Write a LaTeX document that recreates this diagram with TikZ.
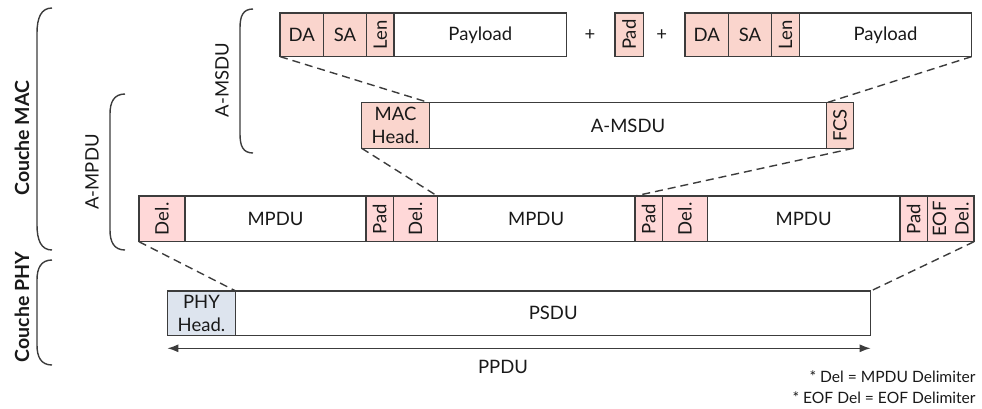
\documentclass[tikz,border=0pt]{standalone}
\usepackage{fontspec}
\setmainfont{Lato}
\usetikzlibrary{arrows.meta}
\definecolor{salm}{RGB}{250,213,205}
\definecolor{delc}{RGB}{255,216,216}
\definecolor{phyc}{RGB}{221,228,238}
\definecolor{edge}{RGB}{60,60,60}
\definecolor{txt}{RGB}{25,25,25}
\tikzset{
  cellbox/.style={draw=edge, line width=1.5pt, inner sep=0pt, outer sep=0pt, anchor=north west, align=center, text=txt,
     font=\fontsize{18.5}{22.5}\selectfont},
  dashlink/.style={draw=edge, line width=1.4pt, dash pattern=on 8pt off 5pt},
  bracket/.style={draw=edge, line width=1.4pt},
  lbl/.style={text=txt, font=\fontsize{18.5}{22.5}\selectfont},
}
% \cellnode{name}{x1}{x2}{y1}{y2}{fill}{rot}{text}
\newcommand{\cellnode}[8]{%
  \pgfmathsetmacro{\cw}{#3-#2}\pgfmathsetmacro{\ch}{#5-#4}%
  \node[cellbox, fill=#6, minimum width=\cw pt, minimum height=\ch pt] (#1) at (#2,#4) {};
  \node[lbl, rotate=#7, align=center] at (#1.center) {#8};
}
\begin{document}
\begin{tikzpicture}[x=1pt,y=-1pt]
\useasboundingbox (0,0) rectangle (982,408);
% Row 1
\cellnode{da1}{280}{323.3}{13}{56.6}{salm}{0}{DA}
\cellnode{sa1}{323.3}{366.7}{13}{56.6}{salm}{0}{SA}
\cellnode{len1}{366.7}{394}{13}{56.6}{salm}{90}{Len}
\cellnode{pay1}{394}{566.7}{13}{56.6}{white}{0}{Payload}
\node[lbl] (plus1) at (590,35) {+};
\cellnode{pad0}{615}{643.3}{13}{56.6}{salm}{90}{Pad}
\node[lbl] (plus2) at (661.7,35) {+};
\cellnode{da2}{685}{728.3}{13}{56.6}{salm}{0}{DA}
\cellnode{sa2}{728.3}{771.7}{13}{56.6}{salm}{0}{SA}
\cellnode{len2}{771.7}{799.3}{13}{56.6}{salm}{90}{Len}
\cellnode{pay2}{799.3}{971.7}{13}{56.6}{white}{0}{Payload}
% Row 2
\cellnode{mach}{361.7}{429.3}{102.7}{148.3}{salm}{0}{MAC\\Head.}
\cellnode{amsdu}{429.3}{826.7}{102.7}{148.3}{white}{0}{A-MSDU}
\cellnode{fcs}{826.7}{853.3}{102.7}{148.3}{salm}{90}{FCS}
% Row 3
\cellnode{del1}{139}{185}{196}{241.7}{delc}{90}{Del.}
\cellnode{mpdu1}{185}{366}{196}{241.7}{white}{0}{MPDU}
\cellnode{pad1}{366}{393.3}{196}{241.7}{delc}{90}{Pad}
\cellnode{del2}{393.3}{437.3}{196}{241.7}{delc}{90}{Del.}
\cellnode{mpdu2}{437.3}{635}{196}{241.7}{white}{0}{MPDU}
\cellnode{pad2}{635}{662.3}{196}{241.7}{delc}{90}{Pad}
\cellnode{del3}{662.3}{707.3}{196}{241.7}{delc}{90}{Del.}
\cellnode{mpdu3}{707.3}{900}{196}{241.7}{white}{0}{MPDU}
\cellnode{pad3}{900}{927.3}{196}{241.7}{delc}{90}{Pad}
\cellnode{eof}{927.3}{974}{196}{241.7}{delc}{90}{EOF\\Del.}
% Row 4
\cellnode{phyh}{167.3}{235.7}{291}{335.7}{phyc}{0}{PHY\\Head.}
\cellnode{psdu}{235.7}{870.7}{291}{335.7}{white}{0}{PSDU}
% dashed links
\draw[dashlink] (da1.south west) -- (mach.north east);
\draw[dashlink] (pay2.south east) -- (fcs.north west);
\draw[dashlink] (mach.south west) -- (del2.north east);
\draw[dashlink] (fcs.south east) -- (pad2.north west);
\draw[dashlink] (del1.south west) -- (phyh.north east);
\draw[dashlink] (eof.south east) -- (psdu.north east);
% PPDU arrow
\coordinate (pl) at (167.3,348.3);
\coordinate (pr) at (870.7,348.3);
\draw[edge, line width=1.4pt, {Latex[length=11pt,width=8pt]}-{Latex[length=11pt,width=8pt]}] (pl) -- (pr);
\node[lbl] (ppdu) at (503,367) {PPDU};
% brackets
\draw[bracket] (52,8) .. controls (41,8) and (37,18) .. (37,33) -- (37,225) .. controls (37,240) and (41,250) .. (52,250);
\draw[bracket] (52,260) .. controls (41,260) and (37,268) .. (37,280) -- (37,345) .. controls (37,357) and (41,365) .. (52,365);
\draw[bracket] (125,94) .. controls (114,94) and (110,102) .. (110,114) -- (110,230) .. controls (110,242) and (114,250) .. (125,250);
\draw[bracket] (253,9) .. controls (243,9) and (240,16) .. (240,28) -- (240,134) .. controls (240,146) and (243,153) .. (253,153);
% side labels
\node[lbl, rotate=90, font=\fontsize{19.5}{22}\selectfont\bfseries] (cmac) at (22,138) {Couche MAC};
\node[lbl, rotate=90, font=\fontsize{19.5}{22}\selectfont\bfseries] (cphy) at (22,307) {Couche PHY};
\node[lbl, rotate=90] (lampdu) at (92,172) {A-MPDU};
\node[lbl, rotate=90] (lamsdu) at (222,80) {A-MSDU};
% footnotes
\node[lbl, anchor=east, font=\fontsize{15.6}{19}\selectfont] (fn1) at (979,377) {* Del = MPDU Delimiter};
\node[lbl, anchor=east, font=\fontsize{15.6}{19}\selectfont] (fn2) at (979,398) {* EOF Del = EOF Delimiter};
\end{tikzpicture}
\end{document}
